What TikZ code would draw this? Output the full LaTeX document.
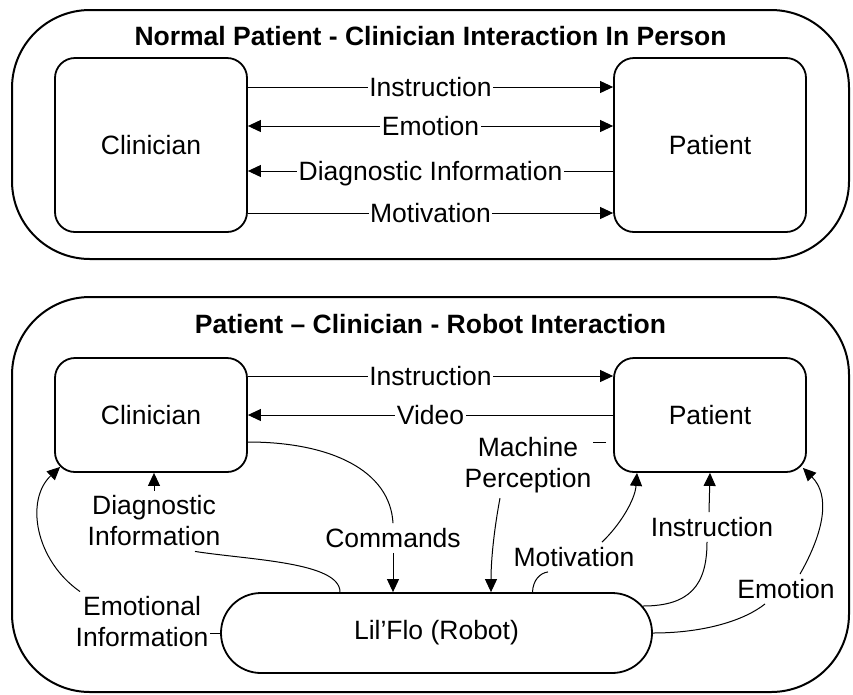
\documentclass[tikz,border=0pt]{standalone}
\usepackage{fontspec}
\setmainfont{Liberation Sans}
\usetikzlibrary{arrows.meta,calc}
\begin{document}
\begin{tikzpicture}[x=1pt,y=-1pt,
  frame/.style={draw, line width=2pt, rounded corners=78pt, inner sep=0pt},
  actor/.style={draw, line width=1.8pt, rounded corners=20pt, minimum width=192pt, inner sep=0pt, font=\fontsize{26.5pt}{31pt}\selectfont},
  robotbox/.style={draw, line width=1.8pt, rounded corners=39.9pt, minimum width=431pt, minimum height=80pt, inner sep=0pt, font=\fontsize{26.5pt}{31pt}\selectfont},
  ttl/.style={font=\fontsize{26.5pt}{31pt}\selectfont\bfseries, inner sep=0pt},
  lab/.style={fill=white, inner xsep=1.5pt, inner ysep=5pt, align=center, font=\fontsize{26.5pt}{31pt}\selectfont},
  conn/.style={line width=1pt},
  arr/.style={conn, -{Triangle[length=13pt,width=12pt]}},
  darr/.style={conn, {Triangle[length=13pt,width=12pt]}-{Triangle[length=13pt,width=12pt]}}
]
\useasboundingbox (0,0) rectangle (853,694);

% ---------- top panel ----------
\node[frame, minimum width=837pt, minimum height=249pt] (frameA) at (430.5,134.5) {};
\node[ttl] (titleA) at (430.5,36) {Normal Patient - Clinician Interaction In Person};
\node[actor, minimum height=174pt] (clinA) at (151,145) {Clinician};
\node[actor, minimum height=174pt] (patA) at (710,145) {Patient};

\draw[arr] (clinA.east |- 0,87) -- node[lab, midway] {Instruction} (patA.west |- 0,87);
\draw[darr] (clinA.east |- 0,126) -- node[lab, midway] {Emotion} (patA.west |- 0,126);
\draw[arr] (patA.west |- 0,171) -- node[lab, midway, text depth=0pt] {Diagnostic Information} (clinA.east |- 0,171);
\draw[arr] (clinA.east |- 0,213) -- node[lab, midway] {Motivation} (patA.west |- 0,213);

% ---------- bottom panel ----------
\node[frame, minimum width=837pt, minimum height=395pt] (frameB) at (430.5,494.5) {};
\node[ttl] (titleB) at (430.5,324) {Patient – Clinician - Robot Interaction};
\node[actor, minimum height=114pt] (clinB) at (151,415) {Clinician};
\node[actor, minimum height=114pt] (patB) at (710,415) {Patient};
\node[robotbox] (robot) at (436.5,633) {Lil’Flo (Robot)};

\node[lab] (cmd) at (393,538) {Commands};
\node[lab] (mp) at (528,465) {Machine\\Perception};
\node[lab] (dl) at (154,521) {Diagnostic\\Information};
\node[lab] (el) at (142,622) {Emotional\\Information};
\node[lab] (mot) at (574,557) {Motivation};
\node[lab] (ins) at (712,527) {Instruction};
\node[lab] (emo) at (786,589) {Emotion};

\draw[arr] (clinB.east |- 0,376) -- node[lab, midway] {Instruction} (patB.west |- 0,376);
\draw[arr] (patB.west |- 0,415) -- node[lab, midway] {Video} (clinB.east |- 0,415);

% Commands
\draw[conn] (clinB.east |- 0,442) .. controls (330,442) and (390,470) .. (cmd.north);
\draw[arr] (cmd.south) -- (cmd.south |- robot.north);

% Machine Perception
\draw[conn, shorten <=7pt] (patB.west |- 0,442) -- (mp.east |- 0,442);
\draw[arr] ($(mp.south)+(-28,0)$) .. controls (494,530) and (491,560) .. (robot.north -| 491,0);

% Diagnostic Information
\draw[conn] (robot.north -| 340,0) .. controls (340,562) and (250,560) .. ($(dl.south)+(41,0)$);
\draw[arr] (dl.north) -- (dl.north |- clinB.south);

% Emotional Information
\draw[conn] (robot.west) -- (el.east |- robot.west);
\draw[arr] ($(el.north)+(-62,0)$) .. controls (35,560) and (25,500) .. ($(clinB.south west)+(6,-6)$);

% Motivation
\draw[conn] ($(robot.north)+(96,0)$) .. controls (533,580) and (540,573) .. ($(mot.south)+(-26,0)$);
\draw[arr] ($(mot.north)+(28,0)$) .. controls (620,525) and (635,500) .. ($(patB.south)+(-73,0)$);

% Instruction
\draw[conn] ($(robot.east)+(-10,-27)$) .. controls (690,606) and (707,585) .. ($(ins.south)+(-5,0)$);
\draw[arr] ($(ins.north)+(-3,0)$) -- (patB.south);

% Emotion
\draw[conn] (robot.east) .. controls (705,633) and (745,620) .. ($(emo.south)+(-21,0)$);
\draw[arr] ($(emo.north)+(14,0)$) .. controls (825,530) and (830,495) .. ($(patB.south east)+(-4,-5)$);
\end{tikzpicture}
\end{document}
